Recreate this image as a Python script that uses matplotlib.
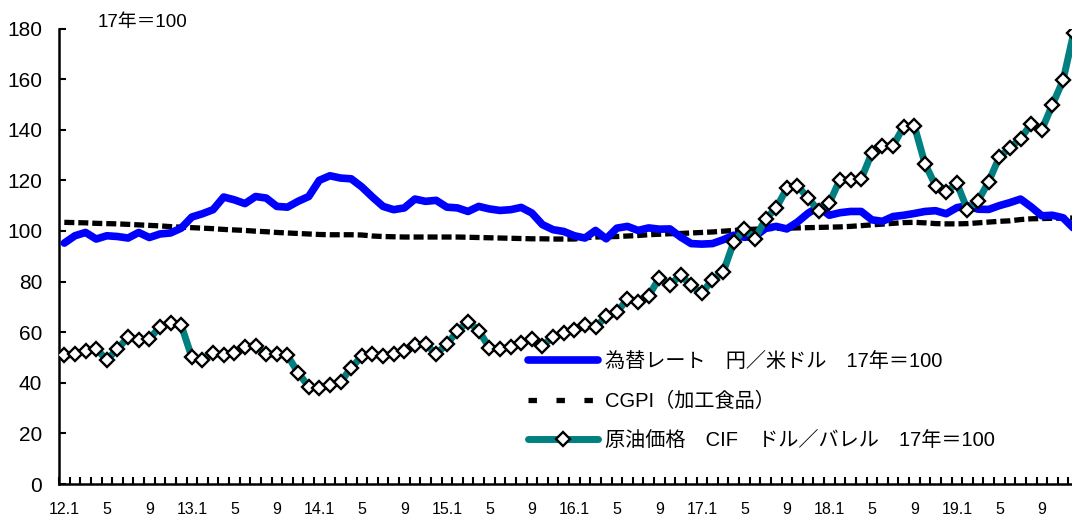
import numpy as np
import matplotlib
matplotlib.use("Agg")
import matplotlib.pyplot as plt
from matplotlib.lines import Line2D

plt.rcParams['font.family'] = ['Liberation Sans', 'Noto Sans CJK JP']

# Monthly series, Jan 2012 - Dec 2019 (2017 average = 100)
fx_rate = [
    95.2, 98.1, 99.4, 96.8, 98.1, 97.8, 97.2, 99.4, 97.4, 98.8, 99.2, 101.1,
    105.5, 106.8, 108.4, 113.4, 112.3, 110.8, 113.6, 113.0, 109.7, 109.4, 111.7, 113.6,
    120.0, 121.8, 120.9, 120.6, 117.4, 113.4, 109.7, 108.4, 109.1, 112.6, 111.7, 112.1,
    109.4, 109.1, 107.7, 109.7, 108.7, 108.1, 108.4, 109.3, 107.1, 102.5, 100.5, 99.8,
    98.1, 97.2, 100.2, 96.9, 101.1, 101.8, 100.2, 101.2, 100.7, 100.8, 97.6, 95.0,
    94.8, 95.0, 96.5, 98.3, 97.5, 97.8, 101.0, 101.8, 100.8, 103.5, 107.0, 109.5,
    106.2, 107.2, 107.7, 107.7, 104.4, 103.8, 105.7, 106.2, 106.9, 107.7, 108.0, 106.8,
    109.2, 110.0, 108.6, 108.5, 110.0, 111.2, 112.6, 109.5, 106.0, 106.2, 105.2, 101.0,
]

cgpi = [
    103.4, 103.3, 103.2, 103.0, 102.9, 102.8, 102.6, 102.4, 102.2, 102.0, 101.7, 101.5,
    101.3, 101.1, 100.9, 100.6, 100.4, 100.2, 99.9, 99.7, 99.4, 99.2, 99.0, 98.8,
    98.6, 98.5, 98.5, 98.5, 98.4, 98.0, 97.8, 97.7, 97.6, 97.6, 97.6, 97.6,
    97.6, 97.6, 97.5, 97.4, 97.3, 97.2, 97.1, 97.0, 96.9, 96.9, 96.8, 96.8,
    96.8, 97.3, 97.6, 97.7, 97.8, 98.0, 98.2, 98.5, 98.7, 98.9, 99.0, 99.2,
    99.4, 99.6, 99.9, 100.2, 100.5, 100.7, 100.9, 101.0, 101.1, 101.2, 101.3, 101.4,
    101.5, 101.6, 101.8, 102.1, 102.4, 102.7, 103.0, 103.3, 103.4, 103.2, 102.9, 102.8,
    102.8, 102.9, 103.2, 103.5, 103.8, 104.0, 104.5, 104.8, 104.9, 105.0, 105.1, 105.1,
]

crude_oil = [
    50.8, 51.3, 52.7, 53.5, 49.0, 53.4, 57.9, 57.0, 57.2, 62.2, 63.6, 62.8,
    50.1, 49.0, 51.7, 51.0, 51.7, 54.3, 54.6, 51.3, 51.3, 50.8, 44.0, 38.5,
    37.8, 39.2, 40.2, 46.0, 50.4, 51.4, 50.6, 51.4, 52.7, 55.0, 55.3, 51.3,
    55.3, 60.4, 64.2, 60.6, 53.9, 53.3, 54.2, 55.8, 57.2, 54.7, 58.1, 59.6,
    60.9, 62.9, 62.0, 66.2, 67.8, 73.1, 72.1, 74.4, 81.4, 78.6, 82.6, 78.5,
    75.4, 80.8, 83.6, 95.5, 100.7, 97.0, 104.7, 109.1, 116.8, 117.9, 113.0, 108.0,
    111.0, 120.3, 120.0, 120.5, 130.8, 133.4, 133.7, 141.2, 141.6, 126.6, 117.9, 115.2,
    118.9, 108.4, 111.9, 119.5, 129.2, 132.8, 136.5, 142.3, 140.0, 149.9, 159.5, 178.3,
]

tick_labels = [
    "12.1", "5", "9", "13.1", "5", "9", "14.1", "5", "9", "15.1", "5", "9",
    "16.1", "5", "9", "17.1", "5", "9", "18.1", "5", "9", "19.1", "5", "9",
]

series_labels = [
    "為替レート\u3000円／米ドル\u300017年＝100",
    "CGPI（加工食品）",
    "原油価格\u3000CIF\u3000ドル／バレル\u300017年＝100",
]

BLUE = "#0000ff"
TEAL = "#008080"

fig = plt.figure(figsize=(10.72, 5.15), dpi=100)
# plot area runs slightly past the right edge of the canvas
ax = fig.add_axes([59 / 1072, 31 / 515, 1020 / 1072, 455.5 / 515])

x = np.arange(len(crude_oil))
ax.plot(x, cgpi, color="black", lw=3.8, dashes=(1.9, 0.75),
        dash_capstyle="butt", zorder=2)
ax.plot(x, fx_rate, color=BLUE, lw=5.5, solid_joinstyle="round",
        solid_capstyle="round", zorder=3)
ax.plot(x, crude_oil, color=TEAL, lw=5, solid_joinstyle="round",
        marker="D", ms=6.8, mfc="white", mec="black", mew=1.7, zorder=4)

ax.set_xlim(-0.5, len(crude_oil) - 0.5)
ax.set_ylim(0, 180)
ax.set_yticks(np.arange(0, 181, 20))

ax.set_xticks(np.arange(0, len(crude_oil), 4))
ax.set_xticklabels(tick_labels)
ax.set_xticks(np.arange(-0.5, len(crude_oil), 1), minor=True)

for side in ("top", "right"):
    ax.spines[side].set_visible(False)
for side in ("left", "bottom"):
    ax.spines[side].set_linewidth(1.8)
    ax.spines[side].set_color("black")

ax.tick_params(axis="y", direction="in", length=5, width=1.5,
               labelsize=15, pad=12)
ax.tick_params(axis="x", which="major", length=0, labelsize=11.5, pad=13)
ax.tick_params(axis="x", which="minor", direction="in", length=5, width=1.5)

fig.text(98 / 1072, 1 - 23 / 515, "17年＝100", fontsize=13.5,
         ha="left", va="center")

handles = [
    Line2D([], [], color=BLUE, lw=5.5, solid_capstyle="round"),
    Line2D([], [], color="black", lw=3.8, dashes=(1.6, 3.7),
           dash_capstyle="butt"),
    Line2D([], [], color=TEAL, lw=5, solid_capstyle="round", marker="D",
           ms=6.8, mfc="white", mec="black", mew=1.7),
]
ax.legend(handles, series_labels, loc="center left",
          bbox_to_anchor=(528 / 1072, 1 - 401 / 515),
          bbox_transform=fig.transFigure, frameon=False, fontsize=14.5,
          handlelength=3.5, handletextpad=0.3, labelspacing=1.0,
          borderpad=0, borderaxespad=0, numpoints=1)

fig.savefig("out.png", dpi=100)
